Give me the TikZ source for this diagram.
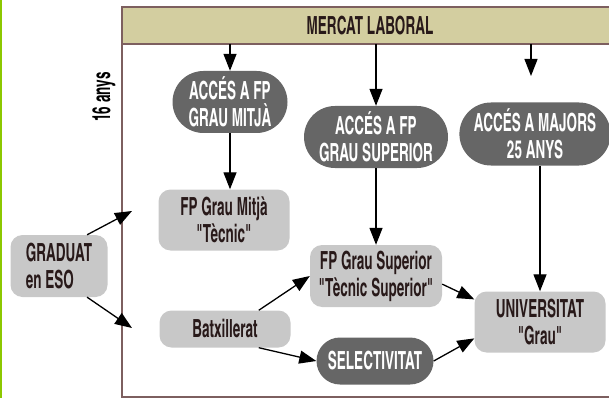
\documentclass[tikz,border=0pt]{standalone}
\usepackage{fontspec}
\IfFontExistsTF{TeX Gyre Heros Cn}
  {\setmainfont{TeX Gyre Heros Cn}[FakeStretch=0.66, Ligatures=TeXOff]}
  {\setmainfont{TeX Gyre Heros}[FakeStretch=0.54, Ligatures=TeXOff]}
\usetikzlibrary{arrows.meta,shapes.misc}
\definecolor{bandfill}{RGB}{211,206,160}
\definecolor{framecol}{RGB}{125,95,95}
\definecolor{darkpill}{RGB}{102,102,102}
\definecolor{lightbox}{RGB}{200,200,200}
\definecolor{inkcol}{RGB}{40,25,25}
\definecolor{sidegreen}{RGB}{140,200,0}
\tikzset{
  pill/.style={rounded rectangle, fill=darkpill, text=white, align=center,
    minimum height=62pt, inner sep=2pt},
  grade/.style={rectangle, rounded corners=12pt, fill=lightbox, text=inkcol,
    align=center, minimum height=61pt, inner sep=2pt},
  flow/.style={-{Triangle[length=17pt,width=13pt]}, line width=1.3pt},
  frame/.style={draw=framecol, line width=1.2pt},
}
\begin{document}
\begin{tikzpicture}[x=1pt, y=-1pt, font=\fontsize{25}{27}\selectfont\bfseries]
      \useasboundingbox (0,0) rectangle (609,398);
      \fill[sidegreen] (0,0) rectangle (2,398);
      \fill[bandfill] (122,7) rectangle (609,44);
      \coordinate (bandfoot) at (122,44);
      \draw[frame] (609,7) -- (122,7) -- (122,397) -- (609,397);
      \draw[frame] (bandfoot) -- (609,44);
      \node[text=inkcol] (mercat) at (370,26) {MERCAT LABORAL};
      \node[rotate=90] (age) at (104,97) {16 anys};
      \node[pill, minimum width=119pt] (accmitja) at (230,102) {ACCÉS A FP\\GRAU MITJÀ};
      \node[pill, minimum width=148pt] (accsup) at (376,137) {ACCÉS A FP\\GRAU SUPERIOR};
      \node[pill, minimum width=145pt, minimum height=63pt] (majors) at (535,134) {ACCÉS A MAJORS\\25 ANYS};
      \node[pill, minimum width=121pt, minimum height=47pt] (selec) at (375,361) {SELECTIVITAT};
      \node[grade, minimum width=131pt] (fpmitja) at (224,220) {FP Grau Mitjà\\"Tècnic"};
      \node[grade, minimum width=97pt, minimum height=62pt, align=left] (graduat) at (59,266) {GRADUAT\\en ESO};
      \node[grade, minimum width=131pt, minimum height=37pt] (batx) at (225,329) {Batxillerat};
      \node[grade, minimum width=132pt, minimum height=62pt] (fpsup) at (376,276) {FP Grau Superior\\"Tècnic Superior"};
      \node[grade, minimum width=131pt] (univ) at (540,322) {UNIVERSITAT\\"Grau"};
      \coordinate (majtop) at (531,76);
      \coordinate (toup) at (132,211);
      \coordinate (todown) at (132,328);
      \begin{scope}[flow]
        \draw (bandfoot -| accmitja.north) to (accmitja.north);
        \draw (bandfoot -| accsup.north) to (accsup.north);
        \draw (bandfoot -| majtop) to (majtop);
        \draw (accmitja.south) to (accmitja.south |- fpmitja.north);
        \draw (accsup.south) to (fpsup.north);
        \draw (univ.north |- majors.south) to (univ.north);
        \draw (graduat.48) to (toup);
        \draw (graduat.-48) to (todown);
        \draw (batx.29) to (fpsup.west);
        \draw (batx.-29) to (selec.west);
        \draw (fpsup.-7) to (univ.161);
        \draw (selec.east) to (univ.194);
      \end{scope}
    \end{tikzpicture}
\end{document}
